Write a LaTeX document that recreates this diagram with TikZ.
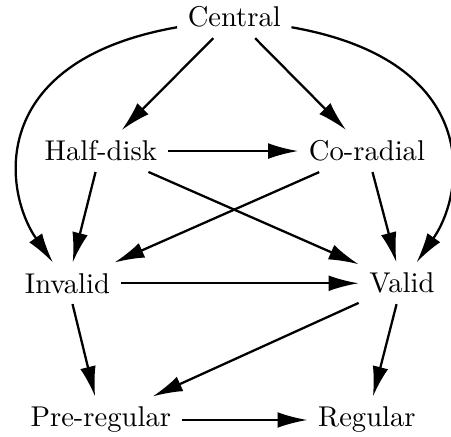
\documentclass[tikz,border=0pt]{standalone}
\usetikzlibrary{arrows.meta}
\begin{document}
\begin{tikzpicture}[>={Latex[length=10.5pt,width=5.5pt]}, line width=0.8pt]
                \useasboundingbox (-2.879,0.211) rectangle (2.663,-5.147);

                % The seven classes
                \node (central) at (0,0) {Central};
                \node (halfdisk) at (-1.64,-1.645) {Half-disk};
                \node (coradial) at (1.63,-1.645) {Co-radial};
                \node (invalid) at (-2.05,-3.27) {Invalid};
                \node (valid) at (2.06,-3.27) {Valid};
                \node (preregular) at (-1.64,-4.95) {Pre-regular};
                \node (regular) at (1.63,-4.95) {Regular};

                % Implications
                \draw[->] (central) -- (halfdisk);
                \draw[->] (central) -- (coradial);
                \draw[->] (halfdisk) -- (coradial);
                \draw[->] (halfdisk) -- (invalid);
                \draw[->] (halfdisk) -- (valid);
                \draw[->] (coradial) -- (invalid);
                \draw[->] (coradial) -- (valid);
                \draw[->] (invalid) -- (valid);
                \draw[->] (invalid) -- (preregular);
                \draw[->] (valid) -- (preregular);
                \draw[->] (valid) -- (regular);
                \draw[->] (preregular) -- (regular);

                % Long way round
                \draw[->] (central) to[out=190, in=125, out distance=2.4cm, in distance=1.05cm] (invalid);
                \draw[->] (central) to[out=350, in=55, out distance=2.4cm, in distance=1.05cm] (valid);
            \end{tikzpicture}
\end{document}
